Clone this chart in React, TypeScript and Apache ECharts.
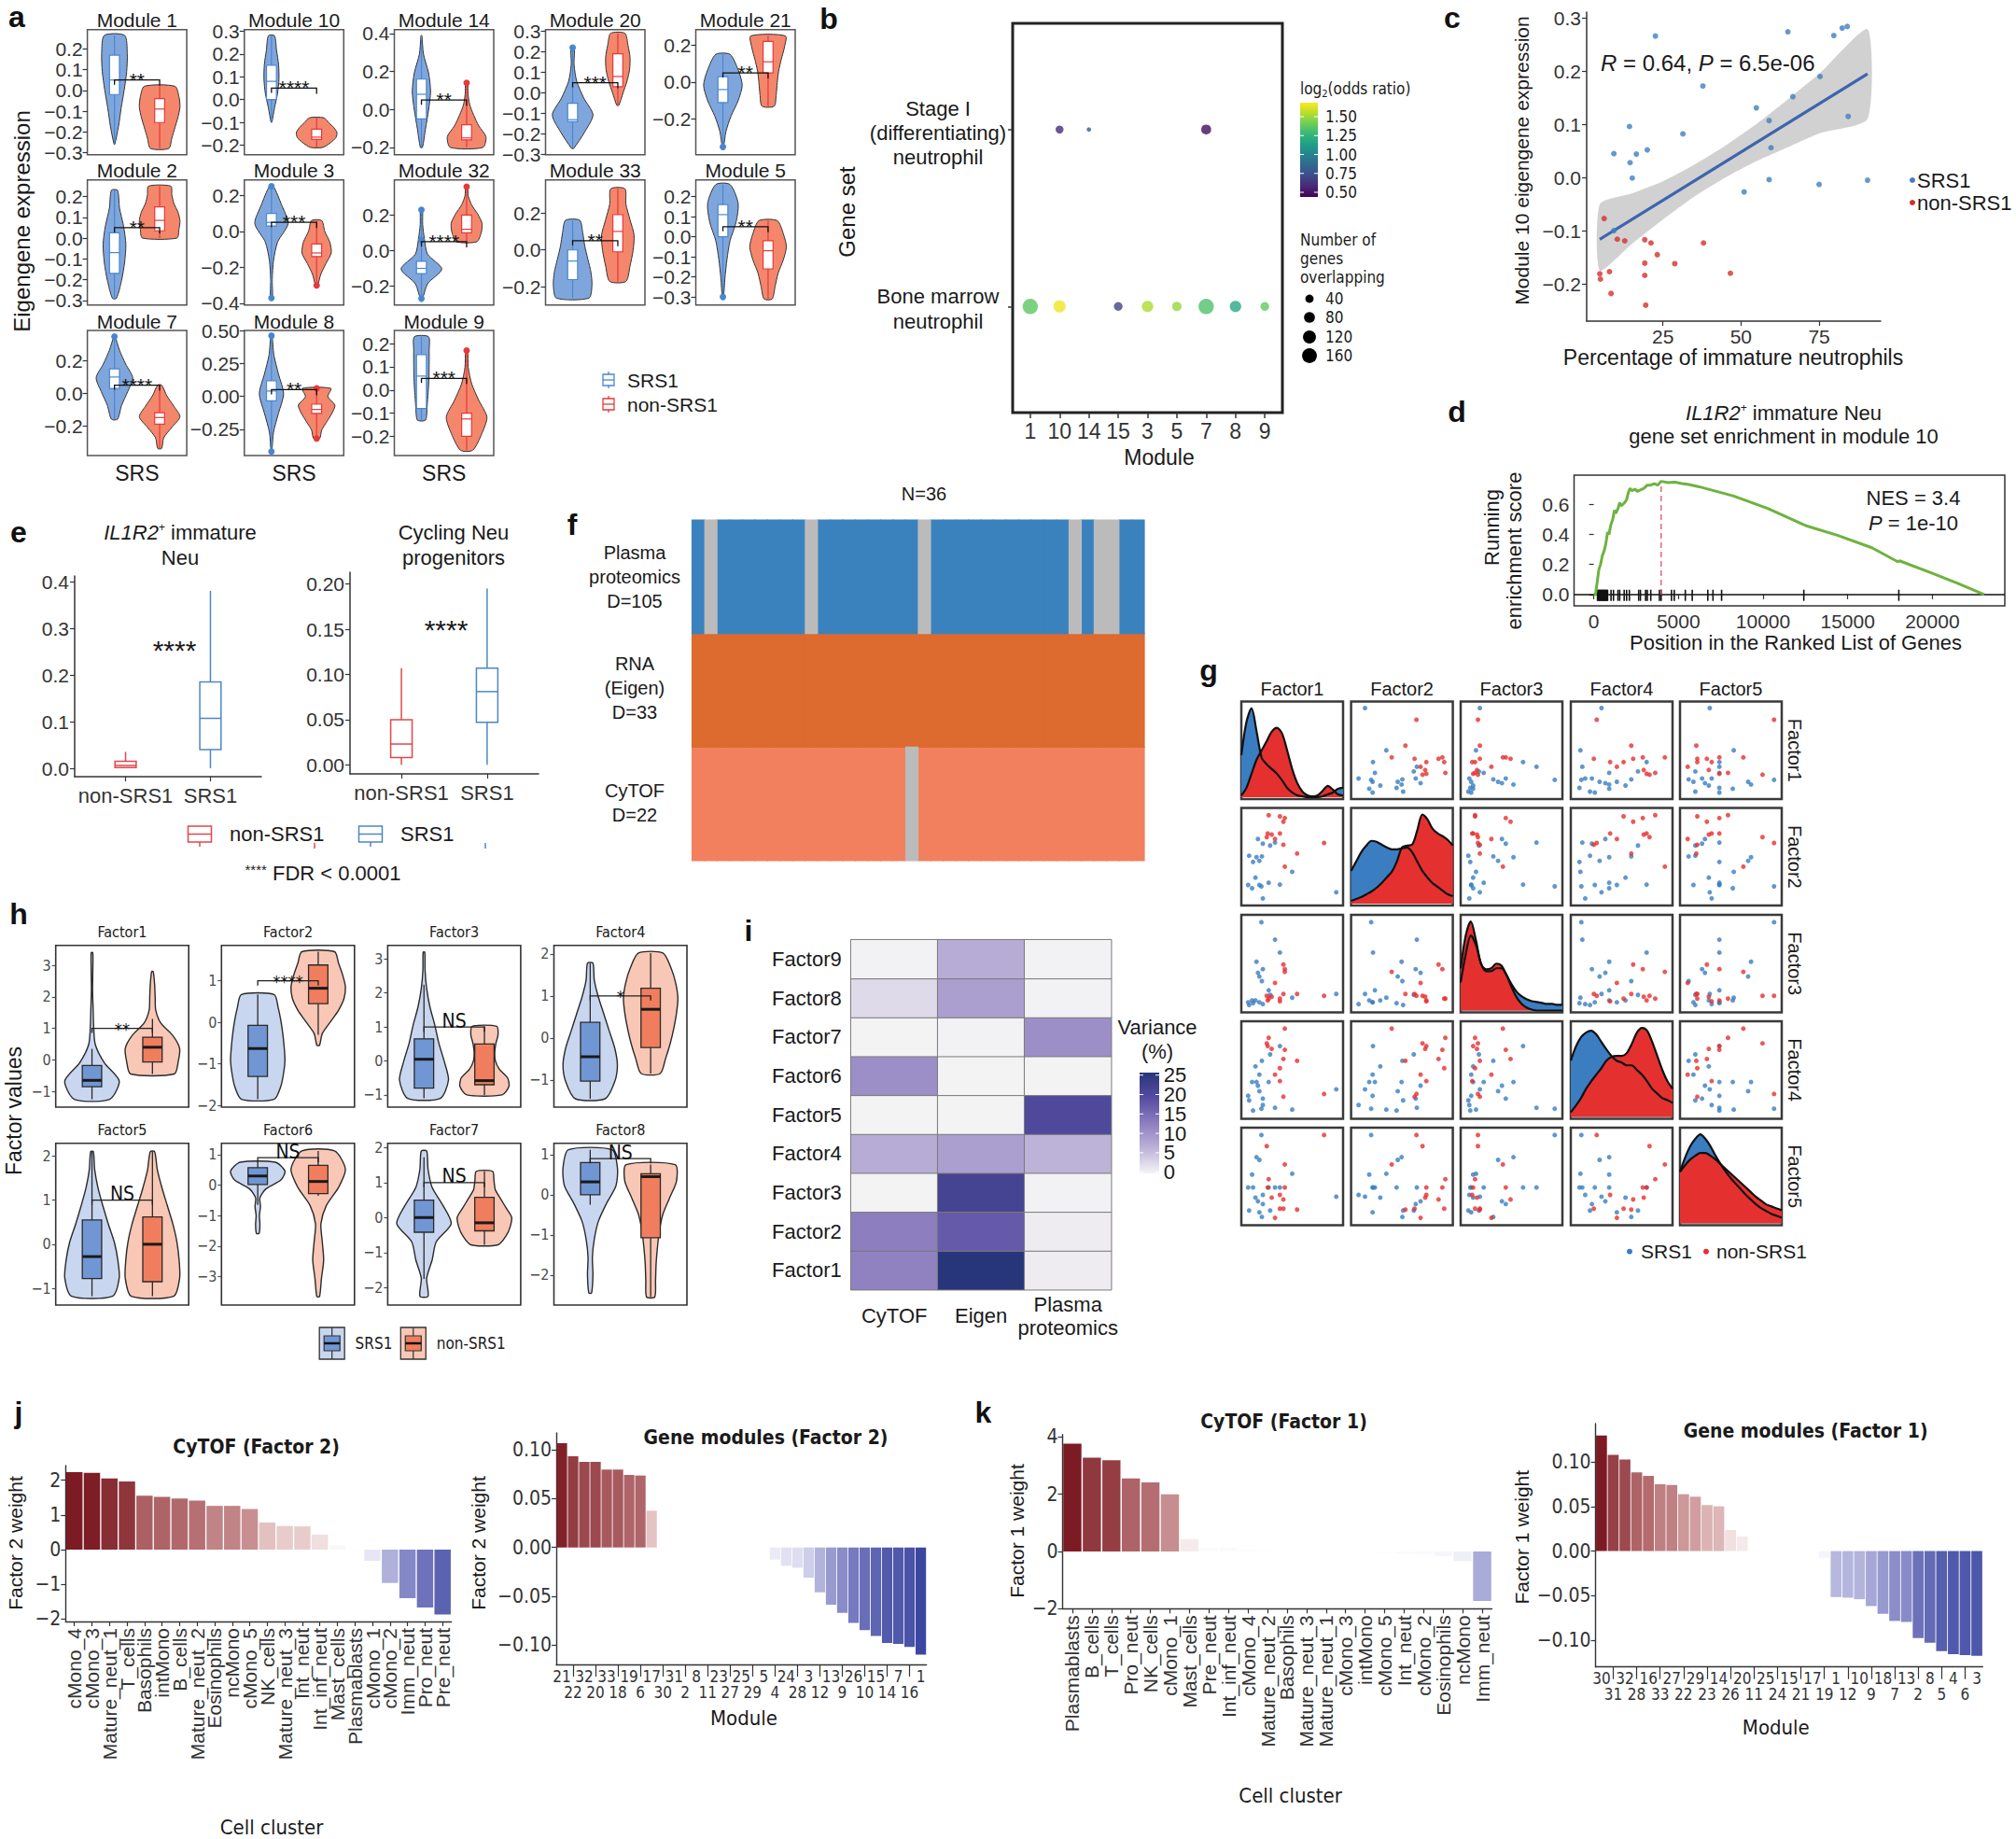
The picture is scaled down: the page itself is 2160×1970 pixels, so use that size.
import React, { useEffect, useRef } from "react";
import * as echarts from "echarts";

const SANS = "'Liberation Sans', Arial, Helvetica, sans-serif";
const NARROW = "'Liberation Sans Narrow', 'DejaVu Sans Condensed', 'Liberation Sans', sans-serif";
const INK = "#1a1a1a";
const AX = "#333333";
const MINUS = "\u2212";
const fmt = (v: number, d: number) => (v < -1e-9 ? MINUS : "") + Math.abs(v).toFixed(d);

/* ---------------- panel a ---------------- */
const aModules = ["1", "10", "14", "20", "21", "2", "3", "32", "33", "5", "7", "8", "9"];
const aYMin = [-0.31, -0.242, -0.238, -0.3, -0.392, -0.322, -0.409, -0.306, -0.297, -0.34, -0.384, -0.45, -0.283];
const aYMax = [0.293, 0.307, 0.421, 0.308, 0.284, 0.28, 0.286, 0.398, 0.378, 0.283, 0.387, 0.5, 0.257];
const aTicks = [
  [-0.3, -0.2, -0.1, 0, 0.1, 0.2],
  [-0.2, -0.1, 0, 0.1, 0.2, 0.3],
  [-0.2, 0, 0.2, 0.4],
  [-0.3, -0.2, -0.1, 0, 0.1, 0.2, 0.3],
  [-0.2, 0, 0.2],
  [-0.3, -0.2, -0.1, 0, 0.1, 0.2],
  [-0.4, -0.2, 0, 0.2],
  [-0.2, 0, 0.2],
  [-0.2, 0, 0.2],
  [-0.3, -0.2, -0.1, 0, 0.1, 0.2],
  [-0.2, 0, 0.2],
  [-0.25, 0, 0.25, 0.5],
  [-0.2, -0.1, 0, 0.1, 0.2],
];
const aDigits = [1, 1, 1, 1, 1, 1, 1, 1, 1, 1, 1, 2, 1];
const aBlueRange = [[-0.26, 0.265], [-0.1, 0.28], [-0.2, 0.39], [-0.27, 0.22], [-0.35, 0.15], [-0.29, 0.23], [-0.37, 0.25], [-0.27, 0.23], [-0.26, 0.16], [-0.3, 0.26], [-0.16, 0.35], [-0.42, 0.46], [-0.13, 0.23]];
const aBlueWidth = [
  [0.02, 0.2, 0.33, 0.48, 0.6, 0.63, 0.5],
  [0.02, 0.15, 0.3, 0.37, 0.35, 0.25, 0.15],
  [0.05, 0.2, 0.35, 0.45, 0.35, 0.1, 0.02],
  [0.05, 0.6, 1.0, 0.55, 0.2, 0.07, 0.08],
  [0.03, 0.15, 0.4, 0.75, 0.95, 0.75, 0.35],
  [0.1, 0.35, 0.5, 0.56, 0.45, 0.25, 0.15],
  [0.05, 0.04, 0.1, 0.3, 0.82, 0.5, 0.1],
  [0.05, 0.3, 1.0, 0.3, 0.15, 0.06, 0.05],
  [0.8, 0.95, 0.9, 0.75, 0.6, 0.5, 0.35],
  [0.03, 0.1, 0.2, 0.35, 0.65, 0.75, 0.35],
  [0.15, 0.35, 0.65, 0.9, 0.55, 0.25, 0.03],
  [0.02, 0.1, 0.35, 0.6, 0.35, 0.12, 0.03],
  [0.2, 0.28, 0.33, 0.37, 0.38, 0.38, 0.35],
];
const aBlueBox = [[-0.02, 0.05, 0.17], [0.0, 0.08, 0.15], [-0.05, 0.08, 0.16], [-0.14, -0.13, -0.05], [-0.11, -0.04, 0.03], [-0.17, -0.07, 0.025], [0.03, 0.05, 0.1], [-0.13, -0.1, -0.06], [-0.16, -0.06, 0.0], [0.0, 0.11, 0.16], [0.03, 0.1, 0.15], [-0.035, 0.04, 0.117], [-0.08, 0.06, 0.153]];
const aRedRange = [[-0.28, 0.02], [-0.21, -0.08], [-0.2, 0.14], [-0.06, 0.29], [-0.13, 0.25], [0.0, 0.25], [-0.3, 0.06], [0.05, 0.36], [-0.17, 0.33], [-0.31, 0.08], [-0.34, 0.05], [-0.32, 0.06], [-0.26, 0.17]];
const aRedWidth = [
  [0.45, 0.6, 0.75, 0.9, 1.0, 0.95, 0.75],
  [0.3, 0.7, 0.95, 1.0, 0.85, 0.6, 0.35],
  [0.8, 0.95, 0.6, 0.35, 0.15, 0.07, 0.05],
  [0.05, 0.25, 0.45, 0.58, 0.6, 0.5, 0.35],
  [0.3, 0.4, 0.45, 0.52, 0.65, 0.8, 0.85],
  [0.85, 0.95, 1.0, 0.9, 0.7, 0.6, 0.55],
  [0.05, 0.2, 0.45, 0.72, 0.65, 0.4, 0.25],
  [0.5, 0.72, 0.76, 0.55, 0.25, 0.08, 0.05],
  [0.4, 0.6, 0.75, 0.8, 0.6, 0.4, 0.35],
  [0.2, 0.35, 0.5, 0.75, 0.9, 0.75, 0.45],
  [0.1, 0.2, 0.6, 1.0, 0.7, 0.35, 0.1],
  [0.15, 0.25, 0.5, 0.75, 0.9, 0.55, 0.7],
  [0.3, 0.75, 1.0, 0.6, 0.25, 0.08, 0.05],
];
const aRedBox = [[-0.155, -0.09, -0.04], [-0.175, -0.165, -0.13], [-0.16, -0.15, -0.08], [0.03, 0.08, 0.19], [0.05, 0.11, 0.22], [0.035, 0.085, 0.15], [-0.14, -0.12, -0.07], [0.1, 0.12, 0.2], [-0.01, 0.1, 0.19], [-0.16, -0.07, -0.02], [-0.19, -0.15, -0.12], [-0.13, -0.1, -0.06], [-0.2, -0.125, -0.1]];
const aStars = ["**", "****", "**", "***", "**", "**", "***", "****", "**", "**", "****", "**", "***"];
const aOutliers: number[][][] = [[], [], [[2, 0.14]], [[1, 0.22]], [[1, -0.35]], [], [[1, 0.25], [1, -0.37], [2, -0.3]], [[1, 0.23], [1, 0.06], [1, -0.27], [2, 0.36]], [], [[1, -0.3]], [[1, 0.35]], [[1, 0.46], [1, -0.42], [2, 0.06], [2, -0.32]], [[2, 0.17]]];
const aPos = [[0, 0], [1, 0], [2, 0], [3, 0], [4, 0], [0, 1], [1, 1], [2, 1], [3, 1], [4, 1], [0, 2], [1, 2], [2, 2]];
const aBottomIdx = [8, 9, 10, 11, 12];

/* ---------------- panel b ---------------- */
const bModules = ["1", "10", "14", "15", "3", "5", "7", "8", "9"];
const bStageIPos = [2, 3, 7];
const bStageIOR = [0.59, 0.81, 0.48];
const bStageIN = [36, 2, 65];
const bMarrowPos = [1, 2, 4, 5, 6, 7, 8, 9];
const bMarrowOR = [1.37, 1.66, 0.69, 1.53, 1.49, 1.33, 1.18, 1.38];
const bMarrowN = [172, 105, 47, 90, 58, 172, 90, 47];
const bORTicks = [0.5, 0.75, 1.0, 1.25, 1.5];
const bNTicks = [40, 80, 120, 160];
const VIRIDIS = ["#440154", "#482878", "#3E4A89", "#31688E", "#26828E", "#1F9E89", "#35B779", "#6DCD59", "#B4DE2C", "#FDE725"];

/* ---------------- panel c ---------------- */
const cBlueX = [22.6, 65, 79.7, 82.4, 84, 37.8, 75.3, 66.6, 54.9, 59, 84.3, 14.3, 31.4, 9.3, 16.5, 20, 14.5, 15.2, 59.6, 59, 51, 75, 90.5, 9.3];
const cBlueY = [0.266, 0.274, 0.267, 0.281, 0.284, 0.172, 0.19, 0.152, 0.131, 0.107, 0.115, 0.096, 0.082, 0.045, 0.044, 0.052, 0.028, -0.001, 0.056, -0.004, -0.027, -0.013, -0.005, -0.1];
const cRedX = [6.2, 10.4, 12.8, 19.2, 21.2, 38, 23.2, 19.2, 28.8, 4.8, 7.9, 5, 19.2, 46.6, 8.4, 19.5];
const cRedY = [-0.077, -0.116, -0.119, -0.117, -0.123, -0.123, -0.145, -0.161, -0.162, -0.181, -0.177, -0.191, -0.184, -0.18, -0.218, -0.24];
const cBandX = [4.8, 15, 25, 35, 45, 55, 65, 75, 90.5];
const cBandLo = [-0.175, -0.125, -0.079, -0.036, 0.0, 0.031, 0.057, 0.083, 0.11];
const cBandHi = [-0.05, -0.03, -0.007, 0.024, 0.06, 0.101, 0.147, 0.195, 0.279];
const cFitX = [4.8, 90.5];
const cFitY = [-0.116, 0.195];

/* ---------------- panel d ---------------- */
const dCurveX = [0, 100, 200, 300, 400, 510, 612, 700, 816, 900, 1000, 1122, 1224, 1300, 1429, 1531, 1620, 1735, 1850, 1939, 2050, 2143, 2250, 2347, 2450, 2551, 2650, 2755, 2860, 2959, 3050, 3163, 3367, 3571, 3776, 3980, 4388, 4796, 5204, 5612, 6224, 7245, 8265, 10306, 12347, 12551, 14388, 16429, 17959, 18061, 20000, 21531, 23061];
const dCurveY = [0, 0.0, 0.08, 0.166, 0.2, 0.26, 0.29, 0.33, 0.415, 0.4, 0.46, 0.5, 0.56, 0.54, 0.57, 0.61, 0.59, 0.6, 0.615, 0.63, 0.68, 0.705, 0.69, 0.695, 0.7, 0.685, 0.69, 0.695, 0.7, 0.705, 0.715, 0.727, 0.727, 0.737, 0.727, 0.752, 0.743, 0.747, 0.737, 0.731, 0.716, 0.685, 0.654, 0.571, 0.467, 0.457, 0.394, 0.311, 0.218, 0.224, 0.141, 0.073, 0];
const dRug = [220, 260, 300, 340, 380, 420, 460, 500, 540, 580, 620, 660, 700, 740, 780, 816, 1020, 1163, 1429, 1531, 1796, 1939, 2102, 2653, 2755, 3061, 3163, 3367, 3878, 3980, 4592, 4755, 5408, 5816, 6735, 7041, 7551, 12408, 18020];
const dPeakX = 3980;
const dPeakY = 0.752;

/* ---------------- panel e ---------------- */
const eCats = ["non-SRS1", "SRS1"];
const eIL1R2Box = [[0.0, 0.0015, 0.006, 0.015, 0.035], [0.0, 0.04, 0.107, 0.185, 0.38]];
const eCyclingBox = [[0.0, 0.008, 0.023, 0.05, 0.107], [0.0, 0.047, 0.081, 0.107, 0.195]];

/* ---------------- panel f ---------------- */
const fN = 36;
const fPlasmaMissing = [1, 9, 18, 30, 32, 33];
const fCytofMissing = [17];
const F_COLORS = ["#BBBBBB", "#3A82BE", "#DD6A2E", "#F2805F"];

/* ---------------- panel g ---------------- */
const gFactors = ["Factor1", "Factor2", "Factor3", "Factor4", "Factor5"];
const gBlue = [
  [0.143, 0.194, 0.321, 0.27, 0.051, 0.128, 0.184, 0.092, 0.158, 0.5, 0.117, 0.255, 0.158, 0.041, 0.179, 0.082, 0.372, 0.194, 0.959],
  [0.694, 0.643, 0.655, 0.623, 0.512, 0.496, 0.504, 0.444, 0.456, 0.337, 0.274, 0.218, 0.194, 0.194, 0.179, 0.159, 0.198, 0.048, 0.115],
  [0.4, 0.44, 0.76, 0.16, 0.05, 0.52, 0.31, 0.07, 0.36, 0.13, 0.1, 0.21, 0.08, 0.08, 0.95, 0.1, 0.62, 0.06, 0.17],
  [0.33, 0.19, 0.09, 0.67, 0.17, 0.37, 0.6, 0.06, 0.27, 0.07, 0.54, 0.37, 0.45, 0.22, 0.08, 0.37, 0.76, 0.12, 0.29],
  [0.23, 0.2, 0.38, 0.13, 0.13, 0.71, 0.06, 0.38, 0.68, 0.53, 0.27, 0.38, 0.11, 0.38, 0.95, 0.52, 0.38, 0.3, 0.28],
];
const gRed = [
  [0.255, 0.372, 0.423, 0.408, 0.245, 0.286, 0.372, 0.235, 0.321, 0.408, 0.832, 0.551, 0.423],
  [0.952, 0.94, 0.921, 0.881, 0.754, 0.742, 0.754, 0.714, 0.694, 0.631, 0.651, 0.536, 0.393],
  [0.12, 0.12, 0.44, 0.49, 0.1, 0.14, 0.09, 0.15, 0.29, 0.17, 0.15, 0.17, 0.41],
  [0.85, 0.52, 0.72, 0.62, 0.76, 0.73, 0.38, 0.79, 0.45, 0.21, 0.24, 0.6, 0.95],
  [0.47, 0.15, 0.38, 0.25, 0.38, 0.27, 0.3, 0.83, 0.05, 0.15, 0.95, 0.14, 0.63],
];
const gDensX = [0, 0.05, 0.1, 0.15, 0.2, 0.25, 0.3, 0.35, 0.4, 0.45, 0.5, 0.55, 0.6, 0.65, 0.7, 0.75, 0.8, 0.85, 0.9, 0.95, 1];
const gDensBlue = [
  [0.45, 0.8, 0.95, 0.7, 0.42, 0.35, 0.3, 0.25, 0.18, 0.1, 0.05, 0.02, 0.01, 0, 0, 0, 0.01, 0.03, 0.05, 0.09, 0.1],
  [0.35, 0.45, 0.55, 0.62, 0.67, 0.66, 0.63, 0.6, 0.58, 0.58, 0.59, 0.6, 0.55, 0.45, 0.35, 0.28, 0.22, 0.18, 0.14, 0.1, 0.08],
  [0.3, 0.6, 0.8, 0.7, 0.5, 0.42, 0.42, 0.45, 0.45, 0.38, 0.28, 0.2, 0.15, 0.12, 0.1, 0.09, 0.08, 0.07, 0.07, 0.06, 0.06],
  [0.6, 0.75, 0.85, 0.9, 0.92, 0.88, 0.8, 0.72, 0.65, 0.6, 0.58, 0.55, 0.55, 0.5, 0.45, 0.38, 0.3, 0.25, 0.2, 0.18, 0.15],
  [0.55, 0.7, 0.82, 0.9, 0.95, 0.9, 0.82, 0.72, 0.63, 0.55, 0.48, 0.42, 0.36, 0.3, 0.25, 0.2, 0.16, 0.13, 0.1, 0.08, 0.06],
];
const gDensRed = [
  [0.02, 0.1, 0.25, 0.4, 0.5, 0.6, 0.7, 0.74, 0.68, 0.5, 0.3, 0.15, 0.06, 0.02, 0.01, 0.02, 0.07, 0.12, 0.08, 0.03, 0.02],
  [0.03, 0.05, 0.07, 0.1, 0.13, 0.17, 0.22, 0.28, 0.34, 0.45, 0.6, 0.62, 0.63, 0.78, 0.95, 0.9, 0.8, 0.75, 0.72, 0.68, 0.62],
  [0.45, 0.8, 0.95, 0.75, 0.5, 0.44, 0.45, 0.5, 0.48, 0.38, 0.25, 0.14, 0.07, 0.03, 0.01, 0, 0, 0, 0, 0, 0],
  [0.05, 0.12, 0.2, 0.3, 0.38, 0.45, 0.52, 0.6, 0.64, 0.65, 0.65, 0.68, 0.78, 0.9, 0.95, 0.92, 0.8, 0.65, 0.5, 0.38, 0.3],
  [0.55, 0.62, 0.68, 0.72, 0.75, 0.75, 0.72, 0.68, 0.63, 0.58, 0.53, 0.48, 0.43, 0.38, 0.33, 0.28, 0.24, 0.2, 0.18, 0.16, 0.14],
];

/* ---------------- panel h ---------------- */
const hFactors = ["Factor1", "Factor2", "Factor3", "Factor4", "Factor5", "Factor6", "Factor7", "Factor8"];
const hYMin = [-1.5, -2.04, -1.36, -1.65, -1.38, -3.93, -2.5, -2.75];
const hYMax = [3.63, 1.85, 3.4, 2.2, 2.29, 1.37, 2.12, 1.28];
const hTicks = [[-1, 0, 1, 2, 3], [-2, -1, 0, 1], [-1, 0, 1, 2, 3], [-1, 0, 1, 2], [-1, 0, 1, 2], [-3, -2, -1, 0, 1], [-2, -1, 0, 1, 2], [-2, -1, 0, 1]];
const hBlueRange = [[-1.25, 3.4], [-1.85, 0.67], [-1.1, 3.2], [-1.45, 1.78], [-1.18, 2.1], [-1.58, 0.75], [-2.25, 1.9], [-2.45, 1.12]];
const hBlueWidth = [
  [0.65, 1.0, 0.45, 0.12, 0.06, 0.04, 0.02, 0.03, 0.03],
  [0.6, 0.85, 0.95, 1.0, 0.97, 0.92, 0.85, 0.75, 0.6],
  [0.6, 0.9, 0.75, 0.55, 0.4, 0.22, 0.1, 0.04, 0.03],
  [0.55, 0.9, 1.0, 0.9, 0.7, 0.5, 0.3, 0.15, 0.1],
  [0.75, 1.0, 0.95, 0.82, 0.6, 0.4, 0.22, 0.1, 0.05],
  [0.05, 0.08, 0.06, 0.1, 0.08, 0.3, 0.85, 1.0, 0.65],
  [0.15, 0.1, 0.3, 0.45, 1.0, 0.7, 0.3, 0.15, 0.1],
  [0.05, 0.1, 0.08, 0.15, 0.3, 0.6, 0.95, 1.0, 0.8],
];
const hBlueBox = [[-1.25, -0.85, -0.65, -0.18, 0.35], [-1.85, -1.3, -0.63, -0.07, 0.67], [-1.1, -0.8, 0.05, 0.65, 2.25], [-1.45, -1.03, -0.45, 0.37, 1.78], [-1.18, -0.78, -0.28, 0.55, 2.1], [-0.65, 0.02, 0.3, 0.57, 0.75], [-1.75, -0.42, 0.0, 0.5, 1.72], [-0.25, 0.0, 0.32, 0.8, 1.12]];
const hRedRange = [[-0.45, 2.8], [-0.55, 1.7], [-1.0, 1.02], [-0.85, 2.02], [-1.18, 2.1], [-3.65, 1.12], [-0.78, 1.32], [-2.55, 0.75]];
const hRedWidth = [
  [0.8, 0.95, 1.0, 0.75, 0.3, 0.12, 0.1, 0.08, 0.03],
  [0.05, 0.15, 0.45, 0.75, 0.95, 1.0, 0.9, 0.75, 0.6],
  [0.65, 0.9, 0.85, 0.55, 0.4, 0.38, 0.42, 0.5, 0.45],
  [0.35, 0.55, 0.72, 0.85, 0.95, 1.0, 0.92, 0.75, 0.45],
  [0.78, 1.0, 0.98, 0.9, 0.75, 0.55, 0.35, 0.18, 0.08],
  [0.05, 0.12, 0.2, 0.15, 0.1, 0.3, 0.75, 1.0, 0.6],
  [0.5, 0.8, 0.95, 1.0, 0.8, 0.6, 0.4, 0.35, 0.3],
  [0.15, 0.18, 0.2, 0.25, 0.32, 0.45, 0.7, 0.95, 0.9],
];
const hRedBox = [[-0.45, -0.07, 0.4, 0.72, 1.3], [-0.3, 0.45, 0.82, 1.38, 1.7], [-1.0, -0.7, -0.58, 0.5, 1.02], [-0.85, -0.23, 0.68, 1.18, 2.02], [-1.18, -0.85, 0.0, 0.62, 2.1], [-0.35, -0.28, 0.12, 0.65, 1.12], [-0.78, -0.38, -0.15, 0.58, 1.32], [-2.55, -1.07, 0.45, 0.52, 0.75]];
const hSig = ["**", "****", "NS", "*", "NS", "NS", "NS", "NS"];
const hBracket = [1, 1, 1, 1, 1, 0.9, 1, 0.9];

/* ---------------- panel i ---------------- */
const iFactors = ["Factor1", "Factor2", "Factor3", "Factor4", "Factor5", "Factor6", "Factor7", "Factor8", "Factor9"];
const iViews = ["CyTOF", "Eigen", "Plasma\nproteomics"];
const iCytof = [12, 12.5, 0.2, 7, 0.2, 10.5, 0.2, 2.5, 0.3];
const iEigen = [25, 17, 21, 8.5, 0.2, 0.2, 0.3, 8.5, 7];
const iPlasma = [0.8, 0.8, 0.3, 6.3, 19.5, 0.2, 10.5, 0.3, 0.3];
const iTicks = [0, 5, 10, 15, 20, 25];
const I_COLORS = ["#F5F5F5", "#BDB2D8", "#8C7EBF", "#564CA0", "#27367A"];

/* ---------------- panels j / k ---------------- */
const jCyCats = ["cMono_4", "cMono_3", "Mature_neut_1", "T_cells", "Basophils", "intMono", "B_cells", "Mature_neut_2", "Eosinophils", "ncMono", "cMono_5", "NK_cells", "Mature_neut_3", "Int_neut", "Int_inf_neut", "Mast_cells", "Plasmablasts", "cMono_1", "cMono_2", "Imm_neut", "Pro_neut", "Pre_neut"];
const jCyVals = [2.23, 2.21, 2.05, 1.96, 1.55, 1.52, 1.47, 1.41, 1.26, 1.26, 1.17, 0.78, 0.68, 0.67, 0.43, 0.12, -0.02, -0.32, -0.96, -1.4, -1.67, -1.87];
const jModCats = ["21", "22", "32", "20", "33", "18", "19", "6", "17", "30", "31", "2", "8", "11", "23", "27", "25", "29", "5", "4", "24", "28", "3", "12", "13", "9", "26", "10", "15", "14", "7", "16", "1"];
const jModVals = [0.107, 0.0936, 0.0879, 0.0879, 0.0799, 0.0799, 0.0744, 0.0738, 0.0377, 0.0016, 0.001, 0.0003, 0, 0, 0, 0, 0, -0.0003, -0.0006, -0.0125, -0.0188, -0.0208, -0.031, -0.046, -0.0588, -0.067, -0.0773, -0.0847, -0.0907, -0.098, -0.099, -0.102, -0.11];
const kCyCats = ["Plasmablasts", "B_cells", "T_cells", "Pro_neut", "NK_cells", "cMono_1", "Mast_cells", "Pre_neut", "Int_inf_neut", "cMono_4", "Mature_neut_2", "Basophils", "Mature_neut_3", "Mature_neut_1", "cMono_3", "intMono", "cMono_5", "Int_neut", "cMono_2", "Eosinophils", "ncMono", "Imm_neut"];
const kCyVals = [3.76, 3.27, 3.18, 2.55, 2.41, 1.99, 0.43, 0.13, 0.13, 0.08, 0.03, 0.01, 0, 0, -0.01, -0.02, -0.05, -0.08, -0.11, -0.17, -0.34, -1.73];
const kModCats = ["30", "31", "32", "28", "16", "33", "27", "22", "29", "23", "14", "26", "20", "11", "25", "24", "15", "21", "17", "19", "1", "12", "10", "9", "18", "7", "13", "2", "8", "5", "4", "6", "3"];
const kModVals = [0.1296, 0.108, 0.1028, 0.0882, 0.0843, 0.0749, 0.0742, 0.0638, 0.061, 0.0516, 0.0502, 0.0237, 0.0164, 0.001, 0, 0, 0, 0, -0.0003, -0.0077, -0.0516, -0.0523, -0.054, -0.0617, -0.0704, -0.0784, -0.0794, -0.0976, -0.1028, -0.1122, -0.1157, -0.1167, -0.1174];
const DIVERGE = ["#3C47A1", "#7D80C2", "#C4C5E5", "#FFFFFF", "#E6C6C6", "#B0666A", "#7C1B24"];

/* colours */
const A_BLUE_FILL = "#7FA6DC";
const A_RED_FILL = "#F4866C";
const A_BLUE_LINE = "#4A86CF";
const A_RED_LINE = "#E5393A";
const H_BLUE_V = "#C9D6EF";
const H_RED_V = "#F8C7B5";
const H_BLUE_B = "#7196D4";
const H_RED_B = "#F07E5E";
const G_BLUE = "#3A7DC1";
const G_RED = "#E4312F";
const E_RED = "#E0474C";
const E_BLUE = "#4F86C2";

function violinPts(api: any, xc: number, lo: number, hi: number, w: number[], maxHalf: number) {
  const n = w.length;
  const right: number[][] = [];
  const left: number[][] = [];
  for (let k = 0; k < n; k++) {
    const y = lo + ((hi - lo) * k) / (n - 1);
    right.push(api.coord([xc + w[k] * maxHalf, y]));
    left.push(api.coord([xc - w[k] * maxHalf, y]));
  }
  return right.concat(left.reverse());
}

function seg(p: number[], q: number[], stroke: string, lw: number) {
  return { type: "line", shape: { x1: p[0], y1: p[1], x2: q[0], y2: q[1] }, style: { stroke, lineWidth: lw } };
}

function buildOption() {
  const grid: any[] = [];
  const xAxis: any[] = [];
  const yAxis: any[] = [];
  const series: any[] = [];
  const visualMap: any[] = [];
  const gr: any[] = [];

  const addGrid = (left: number, top: number, width: number, height: number, x: any, y: any, border?: { color: string; width: number }) => {
    const i = grid.length;
    grid.push({
      left, top, width, height,
      show: !!border,
      borderColor: border ? border.color : "transparent",
      borderWidth: border ? border.width : 0,
      backgroundColor: "rgba(0,0,0,0)",
    });
    xAxis.push({ gridIndex: i, ...x });
    yAxis.push({ gridIndex: i, ...y });
    return i;
  };
  const hid = { splitLine: { show: false }, axisLine: { show: false }, axisTick: { show: false }, axisLabel: { show: false } };
  const vAxis = (min: number, max: number, o: any = {}) => ({ type: "value", min, max, ...hid, ...o });
  const ticks = (vals: number[], f: (v: number) => string, font: any, len = 5, color = AX) => ({
    axisTick: { show: true, customValues: vals, length: len, lineStyle: { color, width: 1.2 } },
    axisLabel: { show: true, customValues: vals, formatter: (v: number) => f(v), color, ...font },
  });
  const aLine = (w = 1.4) => ({ axisLine: { show: true, onZero: false, lineStyle: { color: AX, width: w } } });
  const T = (x: number, y: number, text: string, size: number, style: any = {}, el: any = {}) => {
    gr.push({
      type: "text", x, y, silent: true, z: 50, ...el,
      style: { text, fontSize: size, fontFamily: SANS, fill: INK, textAlign: "center", textVerticalAlign: "middle", ...style },
    });
  };
  const L = (x1: number, y1: number, x2: number, y2: number, stroke: string, lw = 1.3) =>
    gr.push({ type: "line", silent: true, z: 50, shape: { x1, y1, x2, y2 }, style: { stroke, lineWidth: lw } });
  const R = (x: number, y: number, w: number, h: number, fill: string, stroke: string, lw = 1.3) =>
    gr.push({ type: "rect", silent: true, z: 50, shape: { x, y, width: w, height: h }, style: { fill, stroke, lineWidth: lw } });
  const C = (cx: number, cy: number, r: number, fill: string) =>
    gr.push({ type: "circle", silent: true, z: 50, shape: { cx, cy, r }, style: { fill } });
  const letter = (x: number, y: number, t: string) => T(x, y, t, 32, { fontWeight: "bold", fill: "#111" });
  const italicRich = (size: number) => ({
    i: { fontStyle: "italic", fontSize: size, fontFamily: SANS, fill: INK },
    s: { fontSize: Math.round(size * 0.55), fontFamily: SANS, fill: INK, verticalAlign: "top", lineHeight: size },
    n: { fontSize: size, fontFamily: SANS, fill: INK },
  });

  /* ================= panel a ================= */
  letter(18, 18, "a");
  const aColsX = [93.6, 261.8, 422.5, 584.5, 745.5];
  const aRowsY = [31.7, 192.7, 354];
  const aW = 106.5;
  const aH = 134;
  aModules.forEach((m, i) => {
    const c = aPos[i][0];
    const r = aPos[i][1];
    const left = aColsX[c];
    const top = aRowsY[r];
    const isBottom = aBottomIdx.indexOf(i) >= 0;
    const gi = addGrid(
      left, top, aW, aH,
      vAxis(0.4, 2.6, isBottom ? { axisTick: { show: true, customValues: [1, 2], length: 5, lineStyle: { color: AX, width: 1.2 } } } : {}),
      vAxis(aYMin[i], aYMax[i], ticks(aTicks[i], (v) => fmt(v, aDigits[i]), { fontSize: 21, fontFamily: SANS, margin: 5 })),
      { color: "#555", width: 1.5 }
    );
    T(left + aW / 2, top - 10, "Module " + m, 21);
    series.push({
      type: "custom", xAxisIndex: gi, yAxisIndex: gi, silent: true, data: [[1, 0], [2, 0]],
      renderItem: (params: any, api: any) => {
        const grp = params.dataIndex;
        const xc = grp + 1;
        const rng = grp === 0 ? aBlueRange[i] : aRedRange[i];
        const w = grp === 0 ? aBlueWidth[i] : aRedWidth[i];
        const box = grp === 0 ? aBlueBox[i] : aRedBox[i];
        const fill = grp === 0 ? A_BLUE_FILL : A_RED_FILL;
        const lc = grp === 0 ? A_BLUE_LINE : A_RED_LINE;
        const ch: any[] = [];
        ch.push({ type: "polygon", shape: { points: violinPts(api, xc, rng[0], rng[1], w, 0.45), smooth: 0.25 }, style: { fill, stroke: "#333", lineWidth: 1 } });
        ch.push(seg(api.coord([xc, rng[1]]), api.coord([xc, rng[0]]), lc, 1.2));
        const p3 = api.coord([xc - 0.11, box[2]]);
        const p1 = api.coord([xc + 0.11, box[0]]);
        ch.push({ type: "rect", shape: { x: p3[0], y: p3[1], width: p1[0] - p3[0], height: p1[1] - p3[1] }, style: { fill: "#fff", stroke: lc, lineWidth: 1.2 } });
        ch.push(seg(api.coord([xc - 0.11, box[1]]), api.coord([xc + 0.11, box[1]]), lc, 1.2));
        aOutliers[i].forEach((o) => {
          if (o[0] === xc) {
            const p = api.coord([xc, o[1]]);
            ch.push({ type: "circle", shape: { cx: p[0], cy: p[1], r: 3.5 }, style: { fill: lc } });
          }
        });
        if (grp === 1) {
          const l = api.coord([1, 0.05]);
          const rr = api.coord([2, 0.05]);
          ch.push({ type: "polyline", shape: { points: [[l[0], l[1] + 5], [l[0], l[1]], [rr[0], rr[1]], [rr[0], rr[1] + 6]] }, style: { stroke: "#111", lineWidth: 1.3, fill: "none" } });
          ch.push({ type: "text", x: (l[0] + rr[0]) / 2, y: l[1] + 10, style: { text: aStars[i], fontSize: 21, fontFamily: SANS, fill: "#111", textAlign: "center", textVerticalAlign: "bottom" } });
        }
        return { type: "group", children: ch };
      },
    });
  });
  [0, 1, 2].forEach((c) => T(aColsX[c] + aW / 2, 507, "SRS", 23));
  T(23, 237, "Eigengene expression", 24, {}, { rotation: Math.PI / 2 });
  const aLeg: [string, string, number][] = [["SRS1", A_BLUE_LINE, 407], ["non-SRS1", A_RED_LINE, 433]];
  aLeg.forEach(([lab, col, y]) => {
    L(652, y - 9, 652, y + 9, col);
    R(646, y - 6, 12, 12, "#fff", col);
    L(646, y, 658, y, col);
    T(672, y, lab, 21, { textAlign: "left" });
  });

  /* ================= panel b ================= */
  letter(888, 20, "b");
  const b19 = [1, 2, 3, 4, 5, 6, 7, 8, 9];
  const bGi = addGrid(
    1085, 25, 289, 417,
    vAxis(0.4, 9.6, {
      axisTick: { show: true, customValues: b19, length: 6, lineStyle: { color: AX, width: 1.5 } },
      axisLabel: { show: true, customValues: b19, formatter: (v: number) => bModules[Math.round(v) - 1], fontSize: 23, fontFamily: SANS, color: AX, margin: 8 },
    }),
    vAxis(0.4, 2.6, { axisTick: { show: true, customValues: [1, 2], length: 5, lineStyle: { color: AX, width: 1.5 } } }),
    { color: "#222", width: 3 }
  );
  const bSize = (v: any) => Math.sqrt(20 + 1.45 * v[3]);
  const bS1 = series.length;
  series.push({ type: "scatter", xAxisIndex: bGi, yAxisIndex: bGi, silent: true, symbolSize: bSize, data: bStageIPos.map((p, k) => [p, 2, bStageIOR[k], bStageIN[k]]) });
  series.push({ type: "scatter", xAxisIndex: bGi, yAxisIndex: bGi, silent: true, symbolSize: bSize, data: bMarrowPos.map((p, k) => [p, 1, bMarrowOR[k], bMarrowN[k]]) });
  visualMap.push({ type: "continuous", show: false, seriesIndex: [bS1, bS1 + 1], dimension: 2, min: 0.44, max: 1.685, inRange: { color: VIRIDIS } });
  T(1005, 142, "Stage I\n(differentiating)\nneutrophil", 22, { lineHeight: 26 });
  T(1005, 331, "Bone marrow\nneutrophil", 22, { lineHeight: 27 });
  T(907, 227, "Gene set", 24, {}, { rotation: Math.PI / 2 });
  T(1242, 490, "Module", 23);
  gr.push({
    type: "text", x: 1393, y: 95, silent: true, z: 50,
    style: {
      text: "{n|log}{b|2}{n|(odds ratio)}", textAlign: "left", textVerticalAlign: "middle",
      rich: { n: { fontSize: 17, fontFamily: NARROW, fill: INK }, b: { fontSize: 11, fontFamily: NARROW, fill: INK, verticalAlign: "bottom", lineHeight: 22 } },
    },
  });
  gr.push({
    type: "rect", silent: true, z: 50, shape: { x: 1393, y: 110, width: 19, height: 101 },
    style: { fill: { type: "linear", x: 0, y: 1, x2: 0, y2: 0, colorStops: VIRIDIS.map((c, k) => ({ offset: k / (VIRIDIS.length - 1), color: c })) } },
  });
  bORTicks.forEach((v) => {
    const y = 206 - (v - 0.5) * 81;
    L(1393, y, 1397, y, "#fff", 1);
    L(1408, y, 1412, y, "#fff", 1);
    T(1420, y, v.toFixed(2), 17, { textAlign: "left", fontFamily: NARROW });
  });
  T(1393, 277, "Number of\ngenes\noverlapping", 17, { textAlign: "left", fontFamily: NARROW, lineHeight: 20 });
  bNTicks.forEach((n, k) => {
    const y = [320, 340, 361, 381][k];
    C(1403, y, Math.sqrt(20 + 1.45 * n) / 2, "#000");
    T(1420, y, String(n), 17, { textAlign: "left", fontFamily: NARROW });
  });

  /* ================= panel c ================= */
  letter(1556, 19, "c");
  const cGi = addGrid(
    1700, 13, 315, 331,
    vAxis(0.6, 94.7, { ...aLine(1.5), ...ticks([25, 50, 75], (v) => String(v), { fontSize: 21, fontFamily: SANS, margin: 6 }) }),
    vAxis(-0.27, 0.311, { ...aLine(1.5), ...ticks([-0.2, -0.1, 0, 0.1, 0.2, 0.3], (v) => fmt(v, 1), { fontSize: 21, fontFamily: SANS, margin: 6 }) })
  );
  series.push({
    type: "custom", xAxisIndex: cGi, yAxisIndex: cGi, silent: true, data: [[cBandX[0], cBandLo[0]]], z: 1,
    renderItem: (_p: any, api: any) => {
      const up = cBandX.map((x, k) => api.coord([x, cBandHi[k]]));
      const lo = cBandX.map((x, k) => api.coord([x, cBandLo[k]])).reverse();
      return { type: "polygon", shape: { points: up.concat(lo), smooth: 0.2 }, style: { fill: "#C9C9C9", opacity: 0.85 } };
    },
  });
  series.push({ type: "line", xAxisIndex: cGi, yAxisIndex: cGi, silent: true, showSymbol: false, z: 3, data: cFitX.map((x, k) => [x, cFitY[k]]), lineStyle: { color: "#3D64AE", width: 3.2 } });
  series.push({ type: "scatter", xAxisIndex: cGi, yAxisIndex: cGi, silent: true, z: 4, symbolSize: 6, itemStyle: { color: "#3F7FBF" }, data: cBlueX.map((x, k) => [x, cBlueY[k]]) });
  series.push({ type: "scatter", xAxisIndex: cGi, yAxisIndex: cGi, silent: true, z: 4, symbolSize: 6, itemStyle: { color: "#D42F2B" }, data: cRedX.map((x, k) => [x, cRedY[k]]) });
  gr.push({ type: "text", x: 1715, y: 67, silent: true, z: 50, style: { text: "{i|R} = 0.64, {i|P} = 6.5e-06", textAlign: "left", textVerticalAlign: "middle", fontSize: 24, fontFamily: SANS, fill: INK, rich: italicRich(24) } });
  T(1857, 383, "Percentage of immature neutrophils", 23);
  T(1630, 172, "Module 10 eigengene expression", 21, {}, { rotation: Math.PI / 2 });
  C(2049, 193, 3, "#3F7FBF");
  T(2054, 193, "SRS1", 22, { textAlign: "left" });
  C(2049, 217, 3, "#D42F2B");
  T(2054, 217, "non-SRS1", 22, { textAlign: "left" });

  /* ================= panel d ================= */
  letter(1561, 441, "d");
  gr.push({ type: "text", x: 1911, y: 442, silent: true, z: 50, style: { text: "{i|IL1R2}{s|+}{n| immature Neu}", textAlign: "center", textVerticalAlign: "middle", fontSize: 22, fontFamily: SANS, fill: INK, rich: italicRich(22) } });
  T(1911, 467, "gene set enrichment in module 10", 22);
  const dGi = addGrid(
    1686.5, 509, 461.5, 140,
    vAxis(-1164, 24280, ticks([0, 5000, 10000, 15000, 20000], (v) => String(v), { fontSize: 21, fontFamily: SANS, margin: 6 })),
    vAxis(-0.075, 0.793, ticks([0, 0.2, 0.4, 0.6], (v) => v.toFixed(1), { fontSize: 21, fontFamily: SANS, margin: 5 })),
    { color: "#333", width: 1.5 }
  );
  series.push({ type: "line", xAxisIndex: dGi, yAxisIndex: dGi, silent: true, showSymbol: false, data: [[-1164, 0], [24280, 0]], lineStyle: { color: "#111", width: 1.5 } });
  series.push({
    type: "custom", xAxisIndex: dGi, yAxisIndex: dGi, silent: true, data: dRug.map((x) => [x, 0]),
    renderItem: (_p: any, api: any) => seg(api.coord([api.value(0), 0.032]), api.coord([api.value(0), -0.042]), "#111", 1.6),
  });
  series.push({ type: "line", xAxisIndex: dGi, yAxisIndex: dGi, silent: true, showSymbol: false, data: [[dPeakX, 0], [dPeakX, dPeakY]], lineStyle: { color: "#E0506A", width: 1.3, type: [6, 4] } });
  series.push({ type: "line", xAxisIndex: dGi, yAxisIndex: dGi, silent: true, showSymbol: false, data: dCurveX.map((x, k) => [x, dCurveY[k]]), lineStyle: { color: "#6DB33F", width: 3 } });
  T(2050, 533, "NES = 3.4", 22);
  gr.push({ type: "text", x: 2050, y: 560, silent: true, z: 50, style: { text: "{i|P} = 1e-10", textAlign: "center", textVerticalAlign: "middle", fontSize: 22, fontFamily: SANS, fill: INK, rich: italicRich(22) } });
  T(1924, 688, "Position in the Ranked List of Genes", 22);
  T(1598.5, 565, "Running", 22, {}, { rotation: Math.PI / 2 });
  T(1622.5, 590, "enrichment score", 22, {}, { rotation: Math.PI / 2 });

  /* ================= panel e ================= */
  letter(20, 570, "e");
  gr.push({ type: "text", x: 193, y: 570, silent: true, z: 50, style: { text: "{i|IL1R2}{s|+}{n| immature}", textAlign: "center", textVerticalAlign: "middle", fontSize: 22, fontFamily: SANS, fill: INK, rich: italicRich(22) } });
  T(193, 597, "Neu", 22);
  T(486, 570, "Cycling Neu", 22);
  T(486, 597, "progenitors", 22);
  const eBoxes = [eIL1R2Box, eCyclingBox];
  const eGeo = [[80, 617, 200, 215, -0.018, 0.412], [375, 613, 202, 216, -0.01, 0.213]];
  const eTicks = [[0, 0.1, 0.2, 0.3, 0.4], [0, 0.05, 0.1, 0.15, 0.2]];
  const eDig = [1, 2];
  eGeo.forEach((geo, e) => {
    const gi = addGrid(
      geo[0], geo[1], geo[2], geo[3],
      vAxis(0.4, 2.6, { ...aLine(1.5), ...ticks([1, 2], (v) => eCats[Math.round(v) - 1], { fontSize: 22, fontFamily: SANS, margin: 9 }) }),
      vAxis(geo[4], geo[5], { ...aLine(1.5), ...ticks(eTicks[e], (v) => v.toFixed(eDig[e]), { fontSize: 21, fontFamily: SANS, margin: 6 }) })
    );
    series.push({
      type: "custom", xAxisIndex: gi, yAxisIndex: gi, silent: true, data: [[1, 0], [2, 0]],
      renderItem: (params: any, api: any) => {
        const grp = params.dataIndex;
        const xc = grp + 1;
        const bx = eBoxes[e][grp];
        const col = grp === 0 ? E_RED : E_BLUE;
        const hw = 0.125;
        const a = api.coord([xc - hw, bx[3]]);
        const b = api.coord([xc + hw, bx[1]]);
        return {
          type: "group",
          children: [
            seg(api.coord([xc, bx[4]]), api.coord([xc, bx[3]]), col, 1.5),
            seg(api.coord([xc, bx[1]]), api.coord([xc, bx[0]]), col, 1.5),
            { type: "rect", shape: { x: a[0], y: a[1], width: b[0] - a[0], height: Math.max(b[1] - a[1], 1) }, style: { fill: "#fff", stroke: col, lineWidth: 1.5 } },
            seg(api.coord([xc - hw, bx[2]]), api.coord([xc + hw, bx[2]]), col, 1.5),
          ],
        };
      },
    });
  });
  T(187, 696, "****", 30);
  T(478, 674, "****", 30);
  const eLeg: [string, string, number, number][] = [["non-SRS1", E_RED, 214, 246], ["SRS1", E_BLUE, 397, 429]];
  eLeg.forEach(([lab, col, gx, tx]) => {
    R(gx - 12.5, 885, 25, 17, "#fff", col, 1.5);
    L(gx - 12.5, 893.5, gx + 12.5, 893.5, col, 1.5);
    L(gx, 902, gx, 907, col, 1.5);
    T(tx, 893, lab, 22, { textAlign: "left" });
  });
  L(337, 903, 337, 909, E_RED, 1.5);
  L(520, 903, 520, 909, E_BLUE, 1.5);
  gr.push({ type: "text", x: 346, y: 935, silent: true, z: 50, style: { text: "{a|****} FDR < 0.0001", textAlign: "center", textVerticalAlign: "middle", fontSize: 22, fontFamily: SANS, fill: INK, rich: { a: { fontSize: 15, fontFamily: SANS, fill: INK, verticalAlign: "top", lineHeight: 22 } } } });

  /* ================= panel f ================= */
  letter(613, 562, "f");
  T(990, 529, "N=36", 20);
  const fCols: string[] = [];
  for (let k = 0; k < fN; k++) fCols.push(String(k + 1));
  const fData: number[][] = [];
  for (let col = 0; col < fN; col++) {
    fData.push([col, 0, fCytofMissing.indexOf(col) >= 0 ? 0 : 3]);
    fData.push([col, 1, 2]);
    fData.push([col, 2, fPlasmaMissing.indexOf(col) >= 0 ? 0 : 1]);
  }
  const fGi = addGrid(741.5, 557, 484.5, 365, { type: "category", data: fCols, ...hid }, { type: "category", data: ["CyTOF", "RNA", "Plasma"], ...hid });
  series.push({
    type: "custom", xAxisIndex: fGi, yAxisIndex: fGi, silent: true, data: fData,
    renderItem: (_p: any, api: any) => {
      const c = api.coord([api.value(0), api.value(1)]);
      const s = api.size([1, 1]);
      const code = api.value(2);
      const pad = code === 0 ? 0.35 : 0.6;
      return { type: "rect", z2: code === 0 ? 2 : 1, shape: { x: c[0] - s[0] / 2 - pad, y: c[1] - s[1] / 2 - 0.6, width: s[0] + 2 * pad, height: s[1] + 1.2 }, style: { fill: F_COLORS[code] } };
    },
  });
  T(680, 618, "Plasma\nproteomics\nD=105", 20, { lineHeight: 26 });
  T(680, 737, "RNA\n(Eigen)\nD=33", 20, { lineHeight: 26 });
  T(680, 860, "CyTOF\nD=22", 20, { lineHeight: 26 });

  /* ================= panel g ================= */
  letter(1295, 718, "g");
  const gColsX = [1330, 1447.6, 1565, 1683, 1800];
  const gRowsY = [751.5, 865.6, 980, 1094, 1208];
  const gW = 109;
  const gH = 104.5;
  for (let r = 0; r < 5; r++) {
    for (let c = 0; c < 5; c++) {
      const diag = r === c;
      const gi = addGrid(gColsX[c], gRowsY[r], gW, gH, vAxis(diag ? 0 : -0.03, diag ? 1 : 1.03), vAxis(diag ? -0.02 : -0.03, diag ? 1.02 : 1.03), { color: "#3a3a3a", width: 2.5 });
      if (diag) {
        [gDensBlue[c], gDensRed[c]].forEach((dens, k) => {
          series.push({
            type: "line", xAxisIndex: gi, yAxisIndex: gi, silent: true, showSymbol: false, smooth: 0.3,
            data: gDensX.map((x, q) => [x, dens[q]]),
            lineStyle: { color: "#111", width: 2.2 },
            areaStyle: { color: k === 0 ? G_BLUE : G_RED, opacity: 1 },
          });
        });
      } else {
        series.push({ type: "scatter", xAxisIndex: gi, yAxisIndex: gi, silent: true, symbolSize: 5, itemStyle: { color: G_BLUE }, data: gBlue[c].map((x, q) => [x, gBlue[r][q]]) });
        series.push({ type: "scatter", xAxisIndex: gi, yAxisIndex: gi, silent: true, symbolSize: 5, itemStyle: { color: G_RED }, data: gRed[c].map((x, q) => [x, gRed[r][q]]) });
      }
    }
  }
  gFactors.forEach((f, k) => {
    T(gColsX[k] + gW / 2, 738, f, 20);
    T(1922.6, gRowsY[k] + gH / 2, f, 20, {}, { rotation: -Math.PI / 2 });
  });
  C(1746, 1340.7, 3, G_BLUE);
  T(1758, 1340.7, "SRS1", 21, { textAlign: "left" });
  C(1828, 1340.7, 3, G_RED);
  T(1839, 1340.7, "non-SRS1", 21, { textAlign: "left" });

  /* ================= panel h ================= */
  letter(20, 979, "h");
  const hColsX = [59.7, 237.3, 415.4, 593.5];
  const hRowsY = [1012.8, 1224.8];
  const hW = 142.5;
  const hH = 173.2;
  hFactors.forEach((f, i) => {
    const c = i % 4;
    const r = Math.floor(i / 4);
    const gi = addGrid(
      hColsX[c], hRowsY[r], hW, hH,
      vAxis(0.4, 2.6, r === 1 ? { axisTick: { show: true, customValues: [1, 2], length: 5, lineStyle: { color: AX, width: 1.2 } } } : {}),
      vAxis(hYMin[i], hYMax[i], ticks(hTicks[i], (v) => fmt(v, 0), { fontSize: 16, fontFamily: NARROW, margin: 5 }, 4, "#4d4d4d")),
      { color: "#333", width: 1.6 }
    );
    T(hColsX[c] + hW / 2, hRowsY[r] - 14, f, 16, { fontFamily: NARROW });
    series.push({
      type: "custom", xAxisIndex: gi, yAxisIndex: gi, silent: true, data: [[1, 0], [2, 0]],
      renderItem: (params: any, api: any) => {
        const grp = params.dataIndex;
        const xc = grp + 1;
        const rng = grp === 0 ? hBlueRange[i] : hRedRange[i];
        const w = grp === 0 ? hBlueWidth[i] : hRedWidth[i];
        const bx = grp === 0 ? hBlueBox[i] : hRedBox[i];
        const ch: any[] = [];
        ch.push({ type: "polygon", shape: { points: violinPts(api, xc, rng[0], rng[1], w, 0.45), smooth: 0.25 }, style: { fill: grp === 0 ? H_BLUE_V : H_RED_V, stroke: "#2a2a2a", lineWidth: 1.4 } });
        ch.push(seg(api.coord([xc, bx[4]]), api.coord([xc, bx[3]]), "#2a2a2a", 1.3));
        ch.push(seg(api.coord([xc, bx[1]]), api.coord([xc, bx[0]]), "#2a2a2a", 1.3));
        const a = api.coord([xc - 0.16, bx[3]]);
        const b = api.coord([xc + 0.16, bx[1]]);
        ch.push({ type: "rect", shape: { x: a[0], y: a[1], width: b[0] - a[0], height: b[1] - a[1] }, style: { fill: grp === 0 ? H_BLUE_B : H_RED_B, stroke: "#2a2a2a", lineWidth: 1.3 } });
        ch.push(seg(api.coord([xc - 0.16, bx[2]]), api.coord([xc + 0.16, bx[2]]), "#1a1a1a", 3));
        if (grp === 1) {
          const l = api.coord([1, hBracket[i]]);
          const rr = api.coord([2, hBracket[i]]);
          ch.push({ type: "polyline", shape: { points: [[l[0], l[1] + 5], [l[0], l[1]], [rr[0], rr[1]], [rr[0], rr[1] + 5]] }, style: { stroke: "#222", lineWidth: 1.3, fill: "none" } });
          const isNS = hSig[i] === "NS";
          ch.push({ type: "text", x: (l[0] + rr[0]) / 2, y: l[1] + (isNS ? 4 : 10), style: { text: hSig[i], fontSize: isNS ? 21 : 18, fontFamily: NARROW, fill: "#111", textAlign: "center", textVerticalAlign: "bottom" } });
        }
        return { type: "group", children: ch };
      },
    });
  });
  T(15, 1190, "Factor values", 23, {}, { rotation: Math.PI / 2 });
  const hLeg: [string, string, string, number, number][] = [["SRS1", H_BLUE_V, H_BLUE_B, 355.7, 380.6], ["non-SRS1", H_RED_V, H_RED_B, 442.8, 467.7]];
  hLeg.forEach(([lab, vcol, bcol, gx, tx]) => {
    R(gx - 13.5, 1422, 27, 34, vcol, "#333", 1.3);
    L(gx, 1422, gx, 1456, "#333", 1.2);
    R(gx - 8.5, 1431, 17, 16, bcol, "#333", 1.2);
    L(gx - 8.5, 1439, gx + 8.5, 1439, "#111", 2.5);
    T(tx, 1439, lab, 17, { textAlign: "left", fontFamily: NARROW });
  });

  /* ================= panel i ================= */
  T(802, 997, "i", 32, { fontWeight: "bold", fill: "#111" });
  const iData: number[][] = [];
  iFactors.forEach((_f, k) => {
    iData.push([0, k, iCytof[k]]);
    iData.push([1, k, iEigen[k]]);
    iData.push([2, k, iPlasma[k]]);
  });
  const iGi = addGrid(
    911.7, 1006.7, 279, 375,
    { type: "category", data: iViews, splitLine: { show: false }, axisLine: { show: false }, axisTick: { show: false }, axisLabel: { show: true, interval: 0, fontSize: 22, fontFamily: SANS, color: INK, verticalAlign: "middle", margin: 28, lineHeight: 25 } },
    { type: "category", data: iFactors, splitLine: { show: false }, axisLine: { show: false }, axisTick: { show: false }, axisLabel: { show: true, interval: 0, fontSize: 22, fontFamily: SANS, color: INK, margin: 10 } }
  );
  const iS = series.length;
  series.push({ type: "heatmap", xAxisIndex: iGi, yAxisIndex: iGi, silent: true, data: iData, itemStyle: { borderColor: "#7a7a7a", borderWidth: 1 } });
  visualMap.push({ type: "continuous", show: false, seriesIndex: iS, dimension: 2, min: 0, max: 25, inRange: { color: I_COLORS } });
  T(1240, 1100.7, "Variance", 22);
  T(1240, 1126.7, "(%)", 22);
  gr.push({
    type: "rect", silent: true, z: 50, shape: { x: 1221, y: 1149, width: 21, height: 108 },
    style: { fill: { type: "linear", x: 0, y: 1, x2: 0, y2: 0, colorStops: I_COLORS.map((c, k) => ({ offset: k / (I_COLORS.length - 1), color: c })) } },
  });
  iTicks.forEach((v) => {
    const y = 1255.7 - v * (104 / 25);
    L(1221, y, 1225, y, "#fff", 1);
    L(1238, y, 1242, y, "#fff", 1);
    T(1246.7, y, String(v), 22, { textAlign: "left" });
  });

  /* ================= panels j / k ================= */
  letter(20, 1513, "j");
  letter(1053.5, 1513, "k");
  const barPanel = (left: number, top: number, width: number, height: number, cats: string[], vals: number[], ymin: number, ymax: number, yt: number[], ydig: number, isModule: boolean) => {
    const xa: any = {
      type: "category", data: cats, splitLine: { show: false },
      axisLine: { show: true, onZero: false, lineStyle: { color: AX, width: 1.4 } },
    };
    if (isModule) {
      xa.axisTick = { show: true, alignWithLabel: true, interval: (idx: number) => idx % 2 === 1, length: 13, lineStyle: { color: AX, width: 1.2 } };
      xa.axisLabel = { show: true, interval: 0, fontSize: 17, fontFamily: NARROW, color: AX, margin: 4, lineHeight: 17, formatter: (v: string, idx: number) => (idx % 2 === 0 ? v : "\n" + v) };
    } else {
      xa.axisTick = { show: true, alignWithLabel: true, interval: 0, length: 5, lineStyle: { color: AX, width: 1.2 } };
      xa.axisLabel = { show: true, interval: 0, rotate: 90, fontSize: 21, fontFamily: SANS, color: AX, margin: 7 };
    }
    const gi = addGrid(left, top, width, height, xa, vAxis(ymin, ymax, { ...aLine(1.4), ...ticks(yt, (v) => fmt(v, ydig), { fontSize: 21, fontFamily: NARROW, margin: 5 }) }));
    const s = series.length;
    series.push({ type: "bar", xAxisIndex: gi, yAxisIndex: gi, silent: true, data: vals, barCategoryGap: "7%" });
    const M = Math.max(...vals.map((v) => Math.abs(v)));
    visualMap.push({ type: "continuous", show: false, seriesIndex: s, dimension: 1, min: -M, max: M, inRange: { color: DIVERGE } });
  };
  barPanel(70.3, 1570, 413.3, 167, jCyCats, jCyVals, -2.07, 2.42, [-2, -1, 0, 1, 2], 0, false);
  barPanel(596, 1535, 396.6, 248, jModCats, jModVals, -0.12, 0.1175, [-0.1, -0.05, 0, 0.05, 0.1], 2, true);
  barPanel(1138.5, 1536.7, 460, 186.6, kCyCats, kCyVals, -2.0, 4.08, [-2, 0, 2, 4], 0, false);
  barPanel(1709.6, 1525, 414.7, 260.7, kModCats, kModVals, -0.13, 0.143, [-0.1, -0.05, 0, 0.05, 0.1], 2, true);
  const boldT = (x: number, y: number, t: string) => T(x, y, t, 21, { fontFamily: NARROW, fontWeight: "bold" });
  boldT(274.6, 1550, "CyTOF (Factor 2)");
  boldT(820.5, 1540, "Gene modules (Factor 2)");
  boldT(1375.5, 1523, "CyTOF (Factor 1)");
  boldT(1934.6, 1532.7, "Gene modules (Factor 1)");
  T(291, 1957, "Cell cluster", 22, { fontFamily: NARROW });
  T(1382.6, 1923.3, "Cell cluster", 22, { fontFamily: NARROW });
  T(797, 1840, "Module", 22, { fontFamily: NARROW });
  T(1902.8, 1850, "Module", 22, { fontFamily: NARROW });
  T(16.7, 1653, "Factor 2 weight", 21, {}, { rotation: Math.PI / 2 });
  T(512.4, 1653, "Factor 2 weight", 21, {}, { rotation: Math.PI / 2 });
  T(1089, 1640, "Factor 1 weight", 21, {}, { rotation: Math.PI / 2 });
  T(1630, 1646.7, "Factor 1 weight", 21, {}, { rotation: Math.PI / 2 });

  return {
    animation: false,
    backgroundColor: "#ffffff",
    textStyle: { fontFamily: SANS },
    grid, xAxis, yAxis, series, visualMap,
    graphic: { elements: gr },
  };
}

export default function App() {
  const ref = useRef<HTMLDivElement>(null);
  useEffect(() => {
    document.body.style.margin = "0";
    const el = ref.current;
    if (!el) return;
    const chart = echarts.init(el, null, { renderer: "svg" });
    chart.setOption(buildOption());
    return () => chart.dispose();
  }, []);
  return <div ref={ref} style={{ width: 2160, height: 1970, background: "#fff" }} />;
}
